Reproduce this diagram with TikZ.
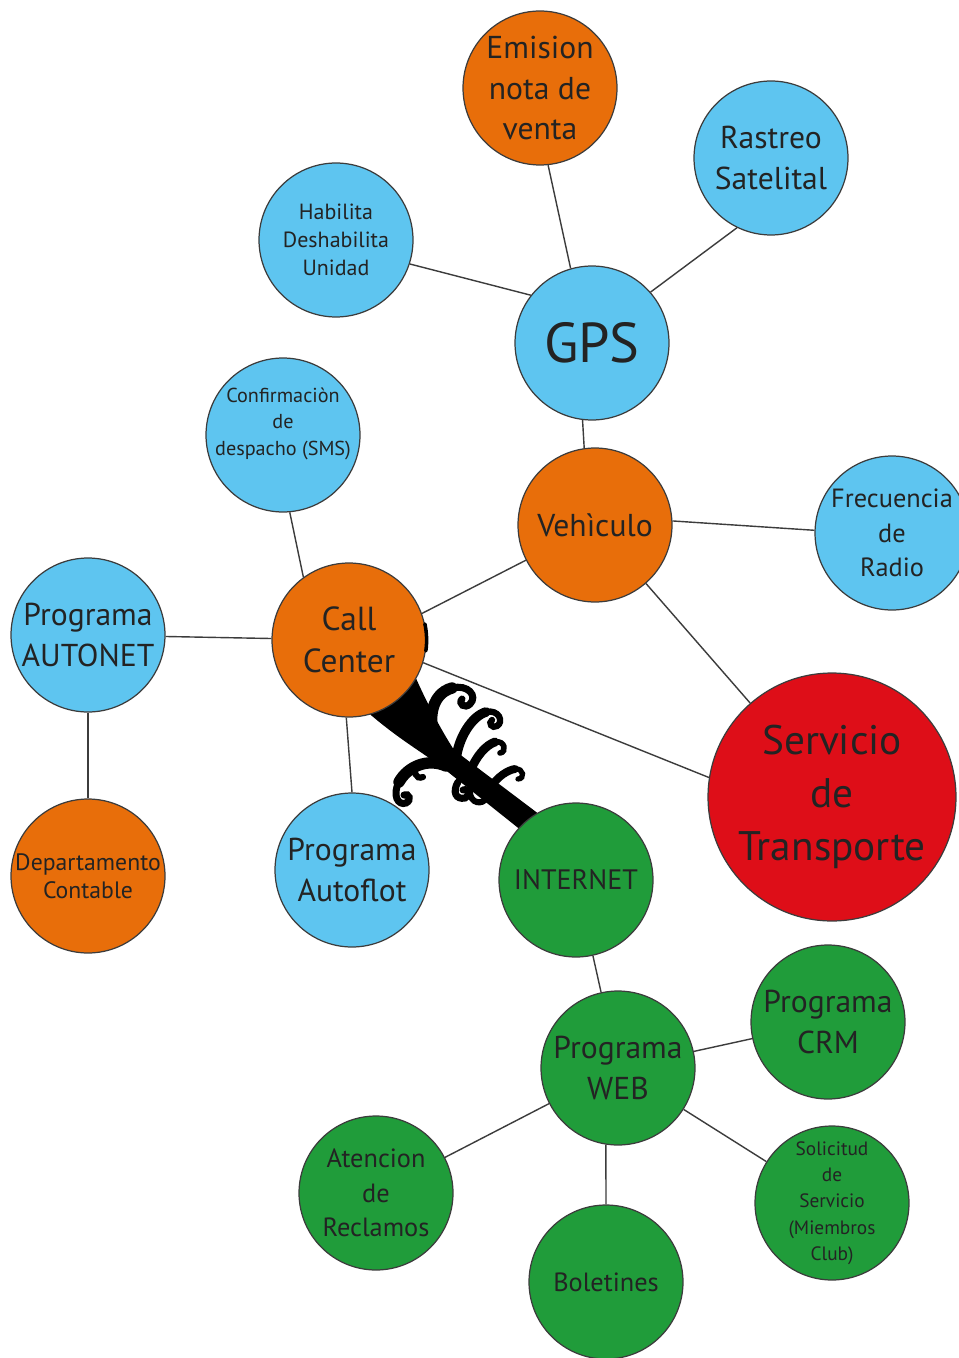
\documentclass[tikz,border=0pt]{standalone}
\usepackage{fontspec}
\setmainfont{PT Sans}
\definecolor{mpblue}{RGB}{94,197,240}
\definecolor{mporange}{RGB}{232,110,10}
\definecolor{mpred}{RGB}{222,14,24}
\definecolor{mpgreen}{RGB}{32,156,58}
\definecolor{mpline}{RGB}{60,60,60}
\definecolor{mptext}{RGB}{35,35,35}
\usetikzlibrary{backgrounds}
\tikzset{
  bub/.style={circle, draw=mpline, line width=0.7pt, fill=#1, minimum size=3.08cm,
              inner sep=0pt, align=center, text=mptext, font=\fontsize{18}{23}\selectfont},
  bigbub/.style={bub=#1, minimum size=4.96cm, font=\fontsize{23.5}{30}\selectfont},
  link/.style={draw=mpline, line width=0.8pt},
  swirl/.style={draw=black, line width=#1, line cap=round},
}

\begin{document}
\begin{tikzpicture}[x=0.02cm, y=-0.02cm]

\useasboundingbox (0,0) rectangle (959,1358);
\clip (0,0) rectangle (959,1358);

% GPS and what hangs on it
\node[bub=mpblue, font=\fontsize{32}{36}\selectfont] (gps) at (592,343) {GPS};
\node[bub=mporange] (emision) at (540,88) {Emision\\nota de\\venta};
\node[bub=mpblue] (rastreo) at (771,158) {Rastreo\\Satelital};
\node[bub=mpblue, font=\fontsize{12.5}{16}\selectfont] (habilita) at (336,240) {Habilita\\Deshabilita\\Unidad};

\draw[link] (emision.276) -- (gps.106);
\draw[link] (rastreo.244) -- (gps.41);
\draw[link] (habilita.342) -- (gps.142);

% Vehicle
\node[bub=mporange] (vehiculo) at (595,525) {Vehìculo};
\node[bub=mpblue, font=\fontsize{15}{19.5}\selectfont] (frecuencia) at (892,533) {Frecuencia\\de\\Radio};

\draw[link] (gps.263) -- (vehiculo.98);
\draw[link] (vehiculo.3) -- (frecuencia.178);

% Call center
\node[bub=mporange, font=\fontsize{19}{24}\selectfont] (callc) at (349,640) {Call\\Center};
\node[bub=mpblue, font=\fontsize{11.5}{15}\selectfont] (confirma) at (283,435)
  {\raisebox{3.5pt}[0pt][0pt]{\begin{tabular}{@{}c@{}}Confirmaciòn\\de\\despacho (SMS)\end{tabular}}};
\node[bub=mpblue] (autonet) at (88,635) {Programa\\AUTONET};
\node[bub=mporange, font=\fontsize{13.5}{16}\selectfont] (depto) at (88,876) {Departamento\\Contable};
\node[bub=mpblue] (autoflot) at (352,870) {Programa\\Autoflot};

\draw[link] (confirma.275) -- (callc.126);
\draw[link] (vehiculo.207) -- (callc.20);
\draw[link] (autonet) -- (callc);
\draw[link] (autonet) -- (depto);
\draw[link] (callc.268) -- (autoflot.90);

% Central node
\node[bigbub=mpred] (servicio) at (832,797) {Servicio\\de\\Transporte};

\draw[link] (vehiculo) -- (servicio);
\draw[link] (callc.343) -- (servicio.171);

% Web side
\node[bub=mpgreen, font=\fontsize{16}{20}\selectfont] (internet) at (576,880) {INTERNET};
\node[bub=mpgreen] (web) at (618,1068) {Programa\\WEB};
\node[bub=mpgreen] (crm) at (828,1022) {Programa\\CRM};
\node[bub=mpgreen, font=\fontsize{15}{19.5}\selectfont] (reclamos) at (376,1193) {Atencion\\de\\Reclamos};
\node[bub=mpgreen, font=\fontsize{15}{19}\selectfont] (boletines) at (606,1282) {Boletines};
\node[bub=mpgreen, font=\fontsize{11}{15}\selectfont] (solicitud) at (832,1203) {Solicitud\\de\\Servicio\\(Miembros\\Club)};

\draw[link] (internet) -- (web);
\draw[link] (web) -- (crm);
\draw[link] (web) -- (reclamos);
\draw[link] (web.261) -- (boletines.90);
\draw[link] (web) -- (solicitud);

% flourish from call center down to internet
\begin{scope}[on background layer]
  \fill[white] (0,0) rectangle (959,1358);
  \fill[black] (callc.center) -- (callc.-74) .. controls (400,740) and (425,754) .. (443,768)
    -- (internet.138) -- (internet.center) -- (internet.120)
    -- (454,750) .. controls (440,728) and (428,705) .. (callc.-30) -- cycle;
\end{scope}
% upper curls
\draw[swirl=6.5pt] (441,752) .. controls (425,724) and (430,694) .. (452,688);
\draw[swirl=4pt] (452,688) .. controls (468,684) and (478,696) .. (470,704)
  .. controls (465,709) and (458,704) .. (462,699);
\draw[swirl=5.5pt] (456,760) .. controls (458,738) and (472,716) .. (486,712);
\draw[swirl=3.6pt] (486,712) .. controls (499,709) and (504,722) .. (497,726)
  .. controls (492,729) and (488,723) .. (492,720);
\draw[swirl=5pt] (470,772) .. controls (476,756) and (486,745) .. (495,742);
\draw[swirl=3.2pt] (495,742) .. controls (505,740) and (507,752) .. (500,753);
\draw[swirl=4.5pt] (490,788) .. controls (498,776) and (508,770) .. (515,769);
\draw[swirl=3pt] (515,769) .. controls (524,768) and (525,779) .. (518,779);
% lower curls
\draw[swirl=6.5pt] (446,766) .. controls (428,758) and (408,766) .. (399,782);
\draw[swirl=4pt] (399,782) .. controls (392,795) and (398,806) .. (406,803)
  .. controls (412,800) and (409,793) .. (404,795);
\draw[swirl=3.5pt] (418,763) .. controls (412,772) and (416,780) .. (423,777);
\draw[swirl=4pt] (458,782) .. controls (452,792) and (456,800) .. (465,798)
  .. controls (471,796) and (469,788) .. (463,790);
\draw[swirl=3.5pt] (470,788) .. controls (468,800) and (478,806) .. (485,800);
% dark edge on the call center rim
\draw[swirl=2pt] (callc.12) arc[start angle=-12, end angle=8, radius=78];

\end{tikzpicture}
\end{document}
